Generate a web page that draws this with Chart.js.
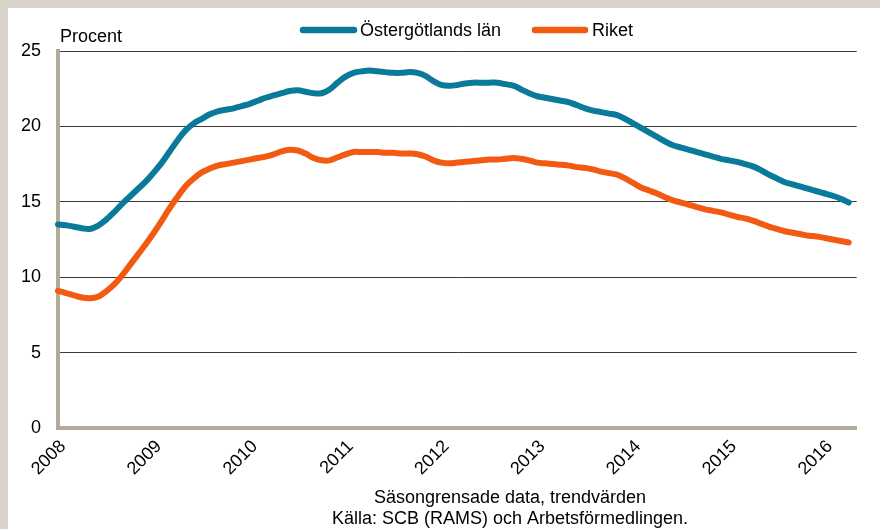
<!DOCTYPE html>
<html>
<head>
<meta charset="utf-8">
<script src="https://cdn.jsdelivr.net/npm/chart.js@4/dist/chart.umd.min.js"></script>
<style>
  html, body { margin: 0; padding: 0; background: #fff; }
  canvas { display: block; }
</style>
</head>
<body>
<canvas id="chart" width="880" height="529"></canvas>
<script>
// Arbetslöshet, procent – månadsvärden jan 2008 -> apr 2016
const years = [2008, 2009, 2010, 2011, 2012, 2013, 2014, 2015, 2016];
const seriesNames = ['Östergötlands län', 'Riket'];

const ostergotland = [
    13.5, 13.45, 13.35, 13.25, 13.2, 13.4, 13.8, 14.3, 14.85, 15.35, 15.85, 16.35,
    16.95, 17.6, 18.35, 19.1, 19.75, 20.2, 20.5, 20.8, 21.0, 21.1, 21.2, 21.35,
    21.5, 21.7, 21.9, 22.05, 22.2, 22.35, 22.4, 22.3, 22.2, 22.2, 22.45, 22.9,
    23.3, 23.55, 23.65, 23.7, 23.65, 23.6, 23.55, 23.55, 23.6, 23.55, 23.35, 23.0,
    22.75, 22.7, 22.75, 22.85, 22.9, 22.9, 22.9, 22.9, 22.8, 22.7, 22.45, 22.2,
    22.0, 21.9, 21.8, 21.7, 21.6, 21.4, 21.2, 21.05, 20.95, 20.85, 20.75, 20.5,
    20.2, 19.9, 19.6, 19.3, 19.0, 18.75, 18.6, 18.45, 18.3, 18.15, 18.0, 17.85,
    17.75, 17.65, 17.5, 17.35, 17.1, 16.8, 16.55, 16.3, 16.15, 16.0, 15.85, 15.7,
    15.55, 15.4, 15.2, 14.95
];

const riket = [
    9.1, 8.95, 8.8, 8.65, 8.6, 8.7, 9.05, 9.5, 10.1, 10.8, 11.5, 12.2,
    12.95, 13.75, 14.6, 15.35, 16.05, 16.55, 16.95, 17.2, 17.4, 17.5, 17.6, 17.7,
    17.8, 17.9, 18.0, 18.15, 18.35, 18.45, 18.4, 18.2, 17.9, 17.75, 17.75, 17.95,
    18.15, 18.3, 18.3, 18.3, 18.3, 18.25, 18.25, 18.2, 18.2, 18.15, 18.0, 17.75,
    17.6, 17.55, 17.6, 17.65, 17.7, 17.75, 17.8, 17.8, 17.85, 17.9, 17.85, 17.75,
    17.6, 17.55, 17.5, 17.45, 17.4, 17.3, 17.25, 17.15, 17.0, 16.9, 16.8, 16.55,
    16.25, 15.95, 15.75, 15.55, 15.3, 15.1, 14.95, 14.8, 14.65, 14.5, 14.4, 14.3,
    14.15, 14.0, 13.9, 13.75, 13.55, 13.35, 13.2, 13.05, 12.95, 12.85, 12.75, 12.7,
    12.6, 12.5, 12.4, 12.3
];

const yTicks = [0, 5, 10, 15, 20, 25];
const footnotes = ['Säsongrensade data, trendvärden', 'Källa: SCB (RAMS) och Arbetsförmedlingen.'];

// månadsetiketter: en per månad, årtal visas bara i januari
const months = [];
years.forEach(y => {
    for (let m = 1; m <= 12; m++) months.push(y + '-' + String(m).padStart(2, '0'));
});
const labels = months.slice(0, 101);

const FONT = '"Liberation Sans", Arial, sans-serif';
const colors = ['#0a7a9a', '#f25a12'];
const beige = '#d8d3c8';
const axisColor = '#b3aa9c';

const decorations = {
    id: 'decorations',
    beforeDraw(chart) {
        const ctx = chart.ctx;
        ctx.save();
        ctx.fillStyle = '#fff';
        ctx.fillRect(0, 0, chart.width, chart.height);
        ctx.fillStyle = beige;
        ctx.fillRect(0, 0, chart.width, 8);
        ctx.fillRect(0, 0, 8, chart.height);
        ctx.restore();
    },
    afterDraw(chart) {
        const ctx = chart.ctx;
        ctx.save();
        ctx.font = '18px ' + FONT;
        ctx.fillStyle = '#000';
        ctx.textBaseline = 'middle';
        ctx.textAlign = 'left';
        ctx.fillText('Procent', 60, 37);

        // förklaring
        const items = [
            { x1: 303, x2: 354, tx: 360 },
            { x1: 535, x2: 585, tx: 592 }
        ];
        chart.data.datasets.forEach((ds, i) => {
            const it = items[i];
            ctx.strokeStyle = ds.borderColor;
            ctx.lineWidth = 6.5;
            ctx.lineCap = 'round';
            ctx.beginPath();
            ctx.moveTo(it.x1, 30);
            ctx.lineTo(it.x2, 30);
            ctx.stroke();
            ctx.fillText(ds.label, it.tx, 31);
        });

        ctx.textAlign = 'center';
        ctx.fillText(footnotes[0], 510, 498);
        ctx.fillText(footnotes[1], 510, 519);
        ctx.restore();
    }
};

new Chart(document.getElementById('chart'), {
    type: 'line',
    data: {
        labels: labels,
        datasets: [
            {
                label: seriesNames[0],
                data: ostergotland,
                borderColor: colors[0],
                backgroundColor: colors[0],
                borderWidth: 6,
                borderCapStyle: 'round',
                borderJoinStyle: 'round',
                pointRadius: 0,
                tension: 0.4,
                fill: false
            },
            {
                label: seriesNames[1],
                data: riket,
                borderColor: colors[1],
                backgroundColor: colors[1],
                borderWidth: 6,
                borderCapStyle: 'round',
                borderJoinStyle: 'round',
                pointRadius: 0,
                tension: 0.4,
                fill: false
            }
        ]
    },
    options: {
        responsive: false,
        animation: false,
        devicePixelRatio: 1,
        layout: { padding: { top: 51, left: 0, right: 23, bottom: 45 } },
        plugins: {
            legend: { display: false },
            tooltip: { enabled: false }
        },
        scales: {
            x: {
                offset: false,
                grid: { display: false, drawTicks: false },
                border: { display: true, color: axisColor, width: 4 },
                ticks: {
                    autoSkip: false,
                    minRotation: 45,
                    maxRotation: 45,
                    padding: 8,
                    labelOffset: 5,
                    color: '#000',
                    font: { family: FONT, size: 18 },
                    callback: function(value, index) {
                        const lab = this.getLabelForValue(value);
                        return lab.endsWith('-01') ? lab.slice(0, 4) : '';
                    }
                },
                afterFit(scale) { scale.height = 56; }
            },
            y: {
                min: 0,
                max: 25,
                afterBuildTicks(scale) { scale.ticks = yTicks.map(v => ({ value: v })); },
                grid: {
                    drawTicks: false,
                    lineWidth: 1,
                    color: ctx => ctx.tick && ctx.tick.value === 0 ? 'rgba(0,0,0,0)' : '#3a3a3a'
                },
                border: { display: true, color: axisColor, width: 4 },
                ticks: {
                    padding: 17,
                    color: '#000',
                    font: { family: FONT, size: 18 }
                },
                afterFit(scale) { scale.width = 58; }
            }
        }
    },
    plugins: [decorations]
});
</script>
</body>
</html>
